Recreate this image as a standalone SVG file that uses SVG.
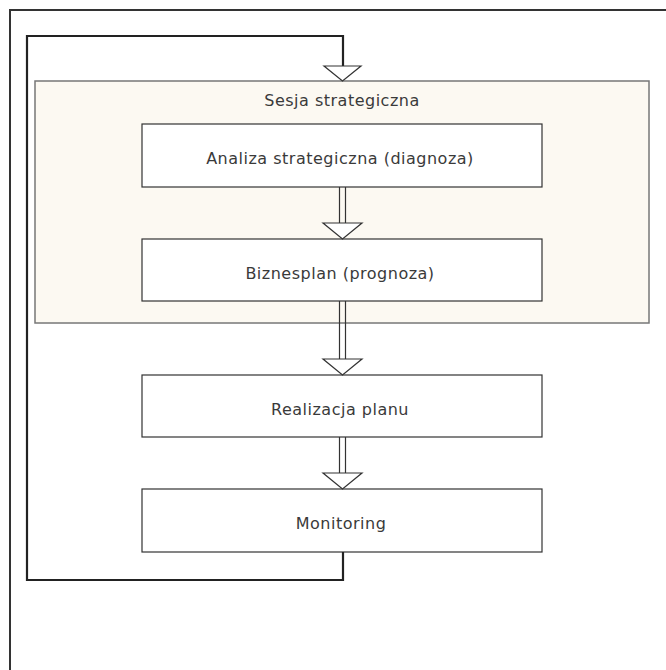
<svg xmlns="http://www.w3.org/2000/svg" width="666" height="670" viewBox="0 0 666 670">
  <style>
    .frame { fill: none; stroke: #333; stroke-width: 2; }
    .group { fill: #fcf9f2; stroke: #777; stroke-width: 1.5; }
    .box { fill: #fff; stroke: #333; stroke-width: 1.2; }
    .lbl { font-family: "DejaVu Sans", sans-serif; font-size: 16px; letter-spacing: 0.5px; fill: #3a3a3a; text-anchor: middle; }
    .loop { fill: none; stroke: #222; stroke-width: 2.2; }
    .rail { fill: none; stroke: #333; stroke-width: 1.2; }
    .head { fill: #fff; stroke: #333; stroke-width: 1.2; }
  </style>
  <rect width="666" height="670" fill="#fff"/>
  <!-- outer frame, open past the right and bottom edges -->
  <path class="frame" d="M10,680 V10 H680"/>

  <g id="sesja">
    <rect class="group" x="35" y="81" width="614" height="242"/>
    <text class="lbl" x="342" y="106">Sesja strategiczna</text>
  </g>
  <g id="analiza">
    <rect class="box" x="142" y="124" width="400" height="63"/>
    <text class="lbl" x="340" y="163.5">Analiza strategiczna (diagnoza)</text>
  </g>
  <g id="biznesplan">
    <rect class="box" x="142" y="239" width="400" height="62"/>
    <text class="lbl" x="340" y="278.5">Biznesplan (prognoza)</text>
  </g>
  <g id="realizacja">
    <rect class="box" x="142" y="375" width="400" height="62"/>
    <text class="lbl" x="340" y="414.5">Realizacja planu</text>
  </g>
  <g id="monitoring">
    <rect class="box" x="142" y="489" width="400" height="63"/>
    <text class="lbl" x="341" y="528.5">Monitoring</text>
  </g>

  <g id="connectors">
    <!-- feedback loop from Monitoring back to the session -->
    <path class="loop" d="M343,552 V580 H27 V36 H343 V66"/>
    <path class="head" d="M324,66 H361 L342.5,81 Z"/>
    <!-- analiza -> biznesplan -->
    <path class="rail" d="M339.5,187 V223 M345.5,187 V223"/>
    <path class="head" d="M323,223 H362 L342.5,239 Z"/>
    <!-- biznesplan -> realizacja -->
    <path class="rail" d="M339.5,301 V359 M345.5,301 V359"/>
    <path class="head" d="M323,359 H362 L342.5,375 Z"/>
    <!-- realizacja -> monitoring -->
    <path class="rail" d="M339.5,437 V473 M345.5,437 V473"/>
    <path class="head" d="M323,473 H362 L342.5,489 Z"/>
  </g>
</svg>
